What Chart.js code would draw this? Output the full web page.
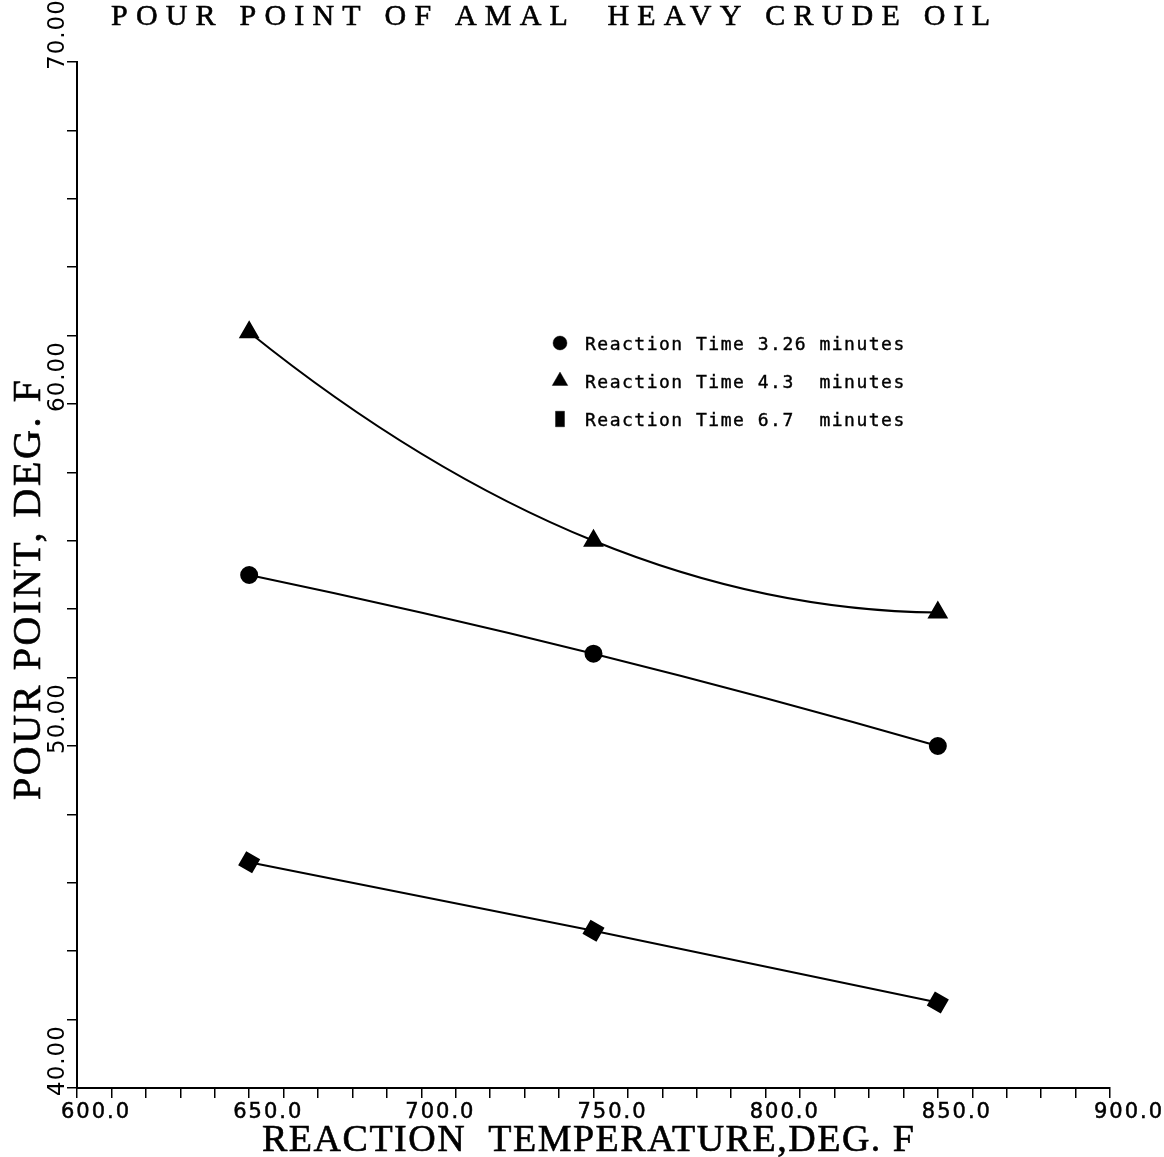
<!DOCTYPE html>
<html>
<head>
<meta charset="utf-8">
<title>Pour Point of Amal Heavy Crude Oil</title>
<script src="https://cdn.jsdelivr.net/npm/chart.js@4.4.1/dist/chart.umd.min.js"></script>
<style>
  html, body { margin: 0; padding: 0; background: #fff; }
  canvas { display: block; }
</style>
</head>
<body>
<canvas id="pourChart" width="1164" height="1157"></canvas>
<script>
// reaction temperature, deg F
const temps = [650, 750, 850];
// pour point, deg F, one array per reaction time
const pour326 = [55.0, 52.7, 50.0];
const pour43 = [62.1, 56.0, 53.9];
const pour67 = [46.6, 44.6, 42.5];

const seriesLabels = [
    'Reaction Time 3.26 minutes',
    'Reaction Time 4.3  minutes',
    'Reaction Time 6.7  minutes'
];

const xTickValues = [600, 650, 700, 750, 800, 850, 900];
const yTickValues = [40, 50, 60, 70];

const titleText = 'POUR POINT OF AMAL  HEAVY CRUDE OIL';
const xTitleText = 'REACTION  TEMPERATURE,DEG. F';
const yTitleText = 'POUR POINT, DEG. F';

function toPoints(ys) {
    return temps.map((t, i) => ({ x: t, y: ys[i] }));
}

// spread the letters so the text covers the given span, like the plotter lettering
function spreadText(ctx, text, x, y, span) {
    ctx.letterSpacing = '0px';
    const w = ctx.measureText(text).width;
    const gap = (span - w) / (text.length - 1);
    ctx.letterSpacing = gap + 'px';
    ctx.fillText(text, x, y);
    ctx.strokeText(text, x, y);
}

// the old plot used a smooth fit: keep the monotone curve but give the end
// points a parabolic tangent instead of the plain secant
const curveEnds = {
    id: 'curveEnds',
    beforeDatasetDraw(chart, args) {
        const meta = args.meta;
        const pts = meta.data;
        const n = pts.length;
        if (n < 3) return;
        meta.dataset.updateControlPoints(chart.chartArea, 'x');

        const p0 = pts[0], p1 = pts[1];
        let dx = p1.x - p0.x;
        const m1 = (p1.y - p1.cp1y) / (p1.x - p1.cp1x);
        const m0 = 2 * (p1.y - p0.y) / dx - m1;
        p0.cp2x = p0.x + dx / 3;
        p0.cp2y = p0.y + m0 * dx / 3;

        const pl = pts[n - 1], pk = pts[n - 2];
        dx = pl.x - pk.x;
        const mk = (pk.cp2y - pk.y) / (pk.cp2x - pk.x);
        const ml = 2 * (pl.y - pk.y) / dx - mk;
        pl.cp1x = pl.x - dx / 3;
        pl.cp1y = pl.y - ml * dx / 3;
    }
};

const textPlugin = {
    id: 'plotText',
    afterDraw(chart) {
        const ctx = chart.ctx;
        const xs = chart.scales.x;
        const ys = chart.scales.y;
        ctx.save();
        ctx.fillStyle = '#000';
        ctx.strokeStyle = '#000';
        ctx.lineWidth = 0.6;
        ctx.textAlign = 'left';
        ctx.textBaseline = 'alphabetic';

        // main title
        ctx.font = '30px "Liberation Serif"';
        spreadText(ctx, titleText, 111, 25, 879);

        // x axis title
        ctx.font = '38px "Liberation Serif"';
        spreadText(ctx, xTitleText, 262, 1151, 652);

        // y axis title
        ctx.save();
        ctx.translate(40, 800);
        ctx.rotate(-Math.PI / 2);
        ctx.font = '40px "Liberation Serif"';
        spreadText(ctx, yTitleText, 0, 0, 420);
        ctx.restore();

        // x tick labels
        ctx.lineWidth = 0.5;
        ctx.font = '21px "DejaVu Sans"';
        ctx.letterSpacing = '2px';
        xTickValues.forEach(v => {
            const px = xs.getPixelForValue(v);
            ctx.fillText(v.toFixed(1), px - 16, 1118);
            ctx.strokeText(v.toFixed(1), px - 16, 1118);
        });

        // y tick labels, rotated
        ctx.font = '23px "DejaVu Sans"';
        ctx.letterSpacing = '1px';
        yTickValues.forEach(v => {
            const py = ys.getPixelForValue(v);
            ctx.save();
            ctx.translate(64, py + 8);
            ctx.rotate(-Math.PI / 2);
            ctx.fillText(v.toFixed(2), 0, 0);
            ctx.restore();
        });

        // legend inside the plot
        ctx.font = '18px "DejaVu Sans Mono"';
        ctx.letterSpacing = '1.5px';
        ctx.lineWidth = 0.4;
        chart.data.datasets.forEach((ds, i) => {
            const y = 343 + 38 * i;
            const style = {
                pointStyle: ds.pointStyle,
                radius: ds.legendRadius,
                rotation: 0,
                borderWidth: 1
            };
            Chart.helpers.drawPointLegend(ctx, style, 560, y, ds.legendWidth);
            ctx.fillText(ds.label, 585, y + 7);
            ctx.strokeText(ds.label, 585, y + 7);
        });

        ctx.restore();
    }
};

const lineStyle = {
    borderColor: '#000',
    backgroundColor: '#000',
    pointBackgroundColor: '#000',
    pointBorderColor: '#000',
    borderWidth: 2,
    cubicInterpolationMode: 'monotone',
    fill: false
};

const pourChart = new Chart(document.getElementById('pourChart'), {
    type: 'line',
    data: {
        datasets: [{
            ...lineStyle,
            label: seriesLabels[0],
            data: toPoints(pour326),
            pointStyle: 'circle',
            pointRadius: 8,
            legendRadius: 7
        }, {
            ...lineStyle,
            label: seriesLabels[1],
            data: toPoints(pour43),
            pointStyle: 'triangle',
            pointRadius: 10,
            legendRadius: 9
        }, {
            ...lineStyle,
            label: seriesLabels[2],
            data: toPoints(pour67),
            pointStyle: 'rect',
            pointRotation: 30,
            pointRadius: 10,
            legendRadius: 11,
            legendWidth: 9
        }]
    },
    options: {
        responsive: false,
        devicePixelRatio: 1,
        animation: false,
        layout: {
            padding: { left: 67, top: 62, right: 54, bottom: 59 }
        },
        plugins: {
            legend: { display: false },
            title: { display: false },
            tooltip: { enabled: false }
        },
        scales: {
            x: {
                type: 'linear',
                min: 600,
                max: 900,
                ticks: { stepSize: 10, display: false },
                grid: {
                    drawOnChartArea: false,
                    tickLength: 10,
                    color: '#000',
                    lineWidth: 1.5
                },
                border: { display: true, color: '#000', width: 2 }
            },
            y: {
                min: 40,
                max: 70,
                ticks: { stepSize: 2, display: false },
                grid: {
                    drawOnChartArea: false,
                    tickLength: 10,
                    color: '#000',
                    lineWidth: 1.5
                },
                border: { display: true, color: '#000', width: 2 }
            }
        }
    },
    plugins: [curveEnds, textPlugin]
});
</script>
</body>
</html>
